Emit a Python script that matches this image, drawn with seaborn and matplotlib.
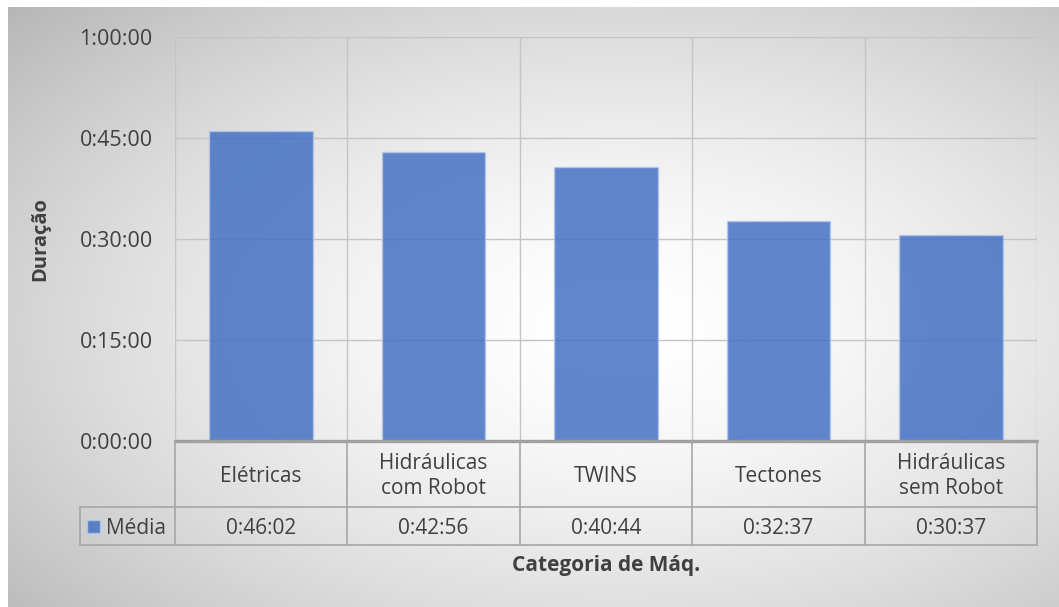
import numpy as np
import pandas as pd
import matplotlib
matplotlib.use("Agg")
import matplotlib.pyplot as plt
import matplotlib.transforms as mtransforms
from matplotlib.patches import Rectangle
import seaborn as sns

# Average duration per machine category (h:mm:ss)
categories = ["Elétricas", "Hidráulicas\ncom Robot", "TWINS", "Tectones", "Hidráulicas\nsem Robot"]
durations = ["0:46:02", "0:42:56", "0:40:44", "0:32:37", "0:30:37"]
y_ticks = ["0:00:00", "0:15:00", "0:30:00", "0:45:00", "1:00:00"]
series_name = "Média"


def to_seconds(s):
    h, m, sec = (int(p) for p in s.split(":"))
    return h * 3600 + m * 60 + sec


df = pd.DataFrame({"categoria": categories,
                   "segundos": [to_seconds(d) for d in durations]})

sns.set_theme(style="white")
plt.rcParams["font.family"] = ["Open Sans", "DejaVu Sans"]

W, H = 1059, 607
fig = plt.figure(figsize=(W / 100, H / 100), dpi=100)
fig.patch.set_facecolor("white")

# soft radial gray background
bg = fig.add_axes([8 / W, 0, 1 - 8 / W, 1 - 7 / H], zorder=-10)
yy, xx = np.mgrid[0:600, 0:1051]
dx = (xx - 610) / 525.0
dy = (yy - 320) / 300.0
r = np.sqrt(dx ** 2 + dy ** 2) / np.sqrt(2)
shade = np.clip(1.0 - 0.24 * np.clip(r, 0, 1.2) ** 1.6, 0, 1)
bg.imshow(np.dstack([shade] * 3), aspect="auto", interpolation="bilinear")
bg.axis("off")


def fx(px):
    return px / W


def fy(py):
    return 1 - py / H


left, right, top, base = 175, 1037, 37, 441
ax = fig.add_axes([fx(left), fy(base), fx(right - left), (base - top) / H])
ax.patch.set_alpha(0)

text_col = "#404040"
grid_col = "#c4c4c4"
line_col = "#a6a6a6"

sns.barplot(data=df, x="categoria", y="segundos", ax=ax, width=0.6,
            color="#4472C4", alpha=0.85, edgecolor="#b4c7e7", linewidth=1.0,
            saturation=1, zorder=3)

ax.set_xlim(-0.5, len(categories) - 0.5)
ax.set_ylim(0, 3600)
ax.set_yticks([to_seconds(t) for t in y_ticks])
ax.set_yticklabels(y_ticks, fontsize=15.5, color=text_col)
ax.tick_params(axis="y", length=0, pad=16)
ax.set_xticks([])
ax.set_xlabel("")
ax.set_ylabel("")
for yt in ax.get_yticks()[1:]:
    ax.axhline(yt, color=grid_col, lw=1.0, zorder=1)
for xb in np.arange(-0.5, len(categories) + 0.5, 1.0):
    ax.axvline(xb, color=grid_col, lw=1.0, zorder=1)
for s in ax.spines.values():
    s.set_visible(False)
ax.axhline(0, color="#a0a0a0", lw=2.4, zorder=5, clip_on=False)

# data table beneath the plot
tr = mtransforms.blended_transform_factory(ax.transData, fig.transFigure)
row1_bot, row2_bot = 507, 545
n = len(categories)
for xb in np.arange(-0.5, n + 0.5, 1.0):
    fig.add_artist(plt.Line2D([xb, xb], [fy(base), fy(row2_bot)], transform=tr,
                              color=line_col, lw=1.2))
for yb in (row1_bot, row2_bot):
    fig.add_artist(plt.Line2D([fx(80), fx(right)], [fy(yb), fy(yb)],
                              transform=fig.transFigure, color=line_col, lw=1.2))
fig.add_artist(plt.Line2D([fx(80), fx(80)], [fy(row1_bot), fy(row2_bot)],
                          transform=fig.transFigure, color=line_col, lw=1.2))

value_baseline = 534
for i, (cat, dur) in enumerate(zip(categories, durations)):
    fig.text(i, fy((base + row1_bot) / 2 + 2), cat, transform=tr, ha="center",
             va="center", fontsize=15, color=text_col, linespacing=1.3)
    fig.text(i, fy(value_baseline), dur, transform=tr, ha="center",
             va="baseline", fontsize=15, color=text_col)

# legend key inside the table
fig.add_artist(Rectangle((fx(87), fy(533)), 13 / W, 13 / H, transform=fig.transFigure,
                         facecolor="#4472C4", alpha=0.85, edgecolor="#b4c7e7", lw=1))
fig.text(fx(106), fy(value_baseline), series_name, ha="left", va="baseline",
         fontsize=15, color=text_col)

fig.text(fx(40), fy((top + base) / 2), "Duração", rotation=90, ha="center",
         va="center", fontsize=14.5, fontweight="bold", color=text_col)
fig.text(fx((left + right) / 2), fy(566), "Categoria de Máq.", ha="center",
         va="center", fontsize=15, fontweight="bold", color=text_col)

fig.savefig("out.png", dpi=100)
